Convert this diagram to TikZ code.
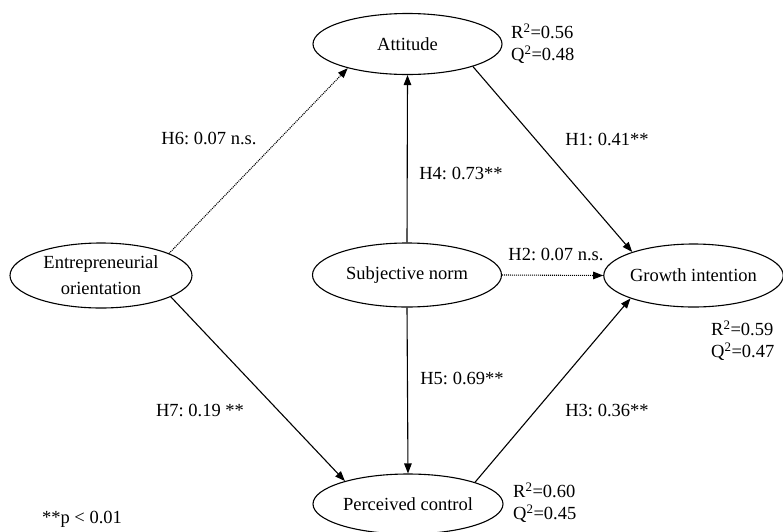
\documentclass[tikz,border=0pt]{standalone}
\usepackage{fontspec}
\setmainfont{Liberation Serif}
\usetikzlibrary{shapes.geometric,arrows.meta}
\frenchspacing
\begin{document}
\begin{tikzpicture}[x=1pt,y=-1pt,
  every node/.style={font=\fontsize{18.5}{22}\selectfont},
  construct/.style={draw=black,line width=1.1pt,ellipse,inner sep=0pt},
  lbl/.style={inner sep=0pt},
  path/.style={line width=1.1pt,-{Triangle[length=10pt,width=7.5pt]}},
  nspath/.style={path,dash pattern=on 1pt off 1pt}]
\clip (0,0) rectangle (783,531);
\fill[white] (0,0) rectangle (783,531);
% constructs
\node[construct,minimum width=189pt,minimum height=61pt] (att) at (407.5,44) {\raisebox{-2pt}{Attitude}};
\node[construct,minimum width=182pt,minimum height=65pt,align=center,font=\fontsize{18.5}{26}\selectfont] (eo) at (101,275.5) {Entrepreneurial\\orientation};
\node[construct,minimum width=189pt,minimum height=64pt] (sn) at (407,275) {Subjective norm};
\node[construct,minimum width=177pt,minimum height=63pt] (gi) at (693.5,275.5) {Growth intention};
\node[construct,minimum width=190pt,minimum height=60pt] (pc) at (408,504) {Perceived control};
% paths
\draw[nspath] (eo.18) -- (att.202);
\draw[path] (sn.north) -- (att.south);
\draw[path] (att.-19) -- (gi.159);
\draw[nspath] (sn.east) -- (gi.west);
\draw[path] (sn.south) -- (pc.north);
\draw[path] (eo.-17) -- (pc.160);
\draw[path] (pc.18) -- (gi.200);
% labels
\node[lbl] (h6) at (209,138) {H6: 0.07 n.s.};
\node[lbl] (h1) at (607,139) {H1: 0.41**};
\node[lbl] (h4) at (461,173) {H4: 0.73**};
\node[lbl] (h2) at (556,254) {H2: 0.07 n.s.};
\node[lbl] (h5) at (462,378) {H5: 0.69**};
\node[lbl] (h7) at (200,410) {H7: 0.19 **};
\node[lbl] (h3) at (607,410) {H3: 0.36**};
\node[lbl] (pnote) at (82,519) {**p {\textless} 0.01};
% R2 / Q2
\node[lbl,anchor=west,align=left] (rqatt) at (511,44) {R\textsuperscript{2}=0.56\\Q\textsuperscript{2}=0.48};
\node[lbl,anchor=west,align=left] (rqgi) at (711,341) {R\textsuperscript{2}=0.59\\Q\textsuperscript{2}=0.47};
\node[lbl,anchor=west,align=left] (rqpc) at (513,503) {R\textsuperscript{2}=0.60\\Q\textsuperscript{2}=0.45};
\end{tikzpicture}
\end{document}
